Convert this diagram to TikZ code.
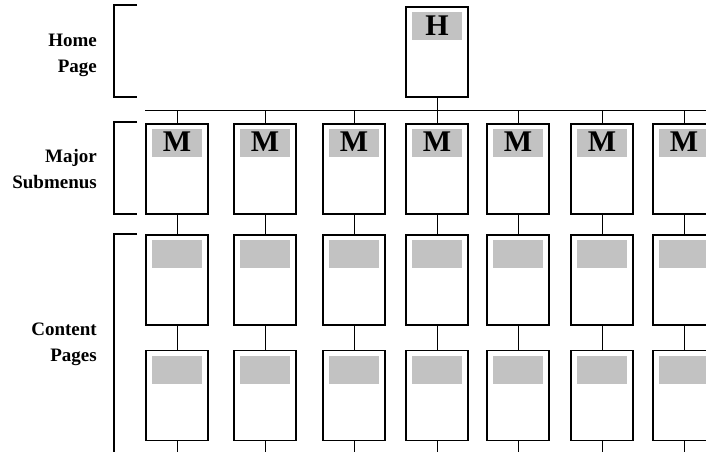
\documentclass[tikz,border=0pt]{standalone}
\usepackage{fontspec}
\setmainfont{Liberation Serif}
\usetikzlibrary{positioning}
\colorlet{stipple}{black!24}

\begin{document}
\begin{tikzpicture}[x=1pt,y=-1pt,
    page/.style={draw,line width=1.2pt,minimum width=62pt,minimum height=90pt,inner sep=0pt,
      path picture={\fill[stipple]
        ([xshift=6pt,yshift=-5pt]path picture bounding box.north west) rectangle
        ([xshift=-6pt,yshift=-33pt]path picture bounding box.north east);}},
    letter/.style={font=\fontsize{30}{30}\selectfont\bfseries,inner sep=0pt},
    tag/.style={font=\fontsize{19}{26}\selectfont\bfseries,align=right,anchor=east,inner sep=0pt},
    link/.style={line width=0.8pt},
    brace/.style={line width=1.2pt}]
  \useasboundingbox (0,0) rectangle (706,452);
  \clip (0,0) rectangle (706,452);
  % levels on the left
  \draw[brace] (137,5) -- (114,5) -- (114,97) -- (137,97);
  \draw[brace] (137,122) -- (114,122) -- (114,214) -- (137,214);
  \draw[brace] (137,234) -- (114,234) -- (114,452);
  \node[tag] (lhome) at (97,55) {Home\\Page};
  \node[tag] (lmajor) at (97,169) {Major\\Submenus};
  \node[tag] (lcontent) at (97,344) {Content\\Pages};
  % home page
  \node[page] (h) at (437,52) {};
  \node[letter] (hl) at ([yshift=-19pt]h.north) {H};
  \coordinate (bus) at (0,110);
  \coordinate (busend) at (706,110);
  \coordinate (bottom) at (0,452);
  \draw[link] (h.south) -- (h.south |- bus);
  % submenus and content pages
  \foreach \i/\x in {1/177,2/265,3/354,4/437,5/518,6/602,7/684}{
    \node[page] (m\i) at (\x,169) {};
    \node[letter] (m\i l) at ([yshift=-18pt]m\i.north) {M};
    \node[page] (c\i) at (\x,280) {};
    \node[page] (d\i) at (\x,395.5) {};
    \draw[link] (m\i.north) -- (m\i.north |- bus);
    \draw[link] (m\i) -- (c\i);
    \draw[link] (c\i) -- (d\i);
    \draw[link] (d\i.south) -- (d\i.south |- bottom);}
  \draw[link] (m1.west |- bus) -- (busend);
\end{tikzpicture}
\end{document}
